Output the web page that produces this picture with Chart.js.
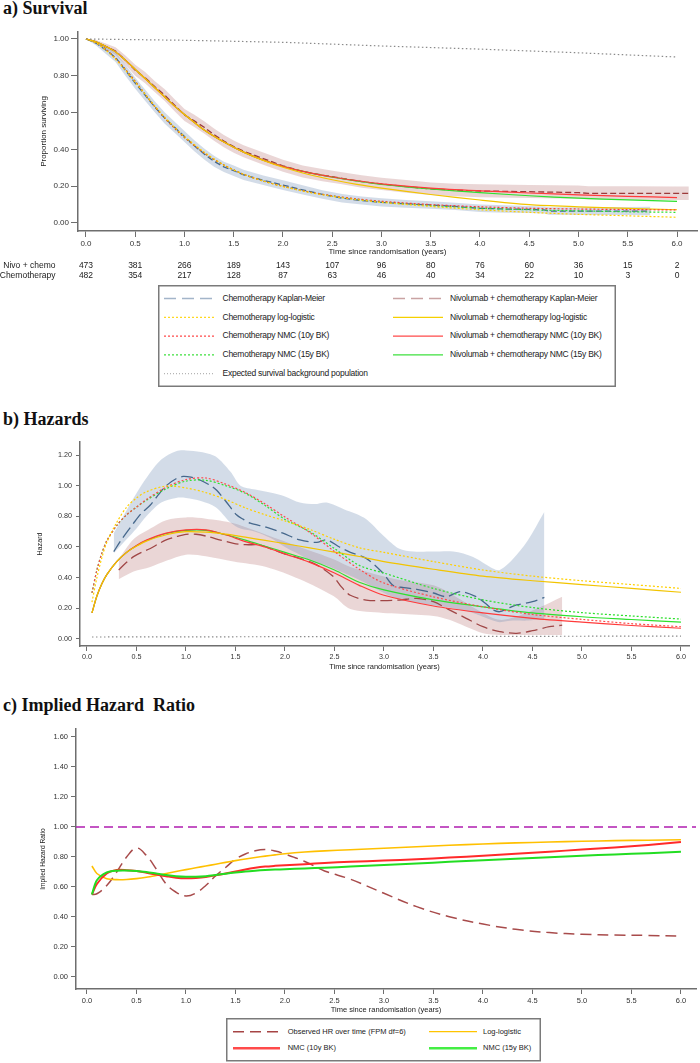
<!DOCTYPE html>
<html>
<head>
<meta charset="utf-8">
<script src="https://cdn.jsdelivr.net/npm/chart.js@4.4.1/dist/chart.umd.min.js"></script>
<style>
  body { margin: 0; background: #fff; width: 700px; height: 1063px; position: relative; overflow: hidden; }
  .title { position: absolute; left: 3px; font: bold 18px 'Liberation Serif', 'Times New Roman', serif; color: #111; line-height: 18px; white-space: pre; }
  canvas, svg { position: absolute; }
  svg text { font-family: 'Liberation Sans', Arial, sans-serif; fill: #222; dominant-baseline: middle; }
</style>
</head>
<body>

<div class="title" style="top:-1px">a) Survival</div>
<canvas id="survChart" width="700" height="265" style="left:0;top:20px"></canvas>

<svg id="survLegend" width="459" height="103" style="left:158px;top:285px">
  <rect x="0.75" y="0.75" width="456.5" height="100.5" fill="#fff" stroke="#7a7a7a" stroke-width="1.5"/>
  <g font-size="8.5" letter-spacing="-0.25">
    <line x1="6" y1="13.5" x2="56" y2="13.5" stroke="#a3b5c9" stroke-width="1.6" stroke-dasharray="12 6"/>
    <text x="64.5" y="13.5">Chemotherapy Kaplan-Meier</text>
    <line x1="6" y1="32.3" x2="56" y2="32.3" stroke="#ffd820" stroke-width="1.2" stroke-dasharray="2 2"/>
    <text x="64.5" y="32.3">Chemotherapy log-logistic</text>
    <line x1="6" y1="51.1" x2="56" y2="51.1" stroke="#ff4a4a" stroke-width="1.2" stroke-dasharray="2 2"/>
    <text x="64.5" y="51.1">Chemotherapy NMC (10y BK)</text>
    <line x1="6" y1="69.9" x2="56" y2="69.9" stroke="#3ee03e" stroke-width="1.2" stroke-dasharray="2 2"/>
    <text x="64.5" y="69.9">Chemotherapy NMC (15y BK)</text>
    <line x1="6" y1="88.7" x2="56" y2="88.7" stroke="#b5b5b5" stroke-width="1.2" stroke-dasharray="1 2"/>
    <text x="64.5" y="88.7">Expected survival background population</text>

    <line x1="235" y1="13.5" x2="285" y2="13.5" stroke="#c9a3a3" stroke-width="1.6" stroke-dasharray="12 6"/>
    <text x="292" y="13.5">Nivolumab + chemotherapy Kaplan-Meier</text>
    <line x1="235" y1="32.3" x2="285" y2="32.3" stroke="#f5d000" stroke-width="1.2"/>
    <text x="292" y="32.3">Nivolumab + chemotherapy log-logistic</text>
    <line x1="235" y1="51.1" x2="285" y2="51.1" stroke="#ff4a4a" stroke-width="1.2"/>
    <text x="292" y="51.1">Nivolumab + chemotherapy NMC (10y BK)</text>
    <line x1="235" y1="69.9" x2="285" y2="69.9" stroke="#3ee03e" stroke-width="1.2"/>
    <text x="292" y="69.9">Nivolumab + chemotherapy NMC (15y BK)</text>
  </g>
</svg>

<div class="title" style="top:410px">b) Hazards</div>
<canvas id="hazChart" width="700" height="243" style="left:0;top:430px"></canvas>

<div class="title" style="top:696px">c) Implied Hazard  Ratio</div>
<canvas id="hrChart" width="700" height="299" style="left:0;top:717px"></canvas>

<svg id="hrLegend" width="316" height="44" style="left:226px;top:1018px">
  <rect x="0.75" y="0.75" width="313.5" height="42" fill="#fff" stroke="#7a7a7a" stroke-width="1.5"/>
  <g font-size="7.5">
    <line x1="7" y1="13.7" x2="54" y2="13.7" stroke="#a64444" stroke-width="1.5" stroke-dasharray="11 6"/>
    <text x="61.7" y="13.7">Observed HR over time (FPM df=6)</text>
    <line x1="7" y1="30.3" x2="54" y2="30.3" stroke="#ff4a4a" stroke-width="2.5"/>
    <text x="61.7" y="30.3">NMC (10y BK)</text>
    <line x1="203" y1="13.7" x2="251" y2="13.7" stroke="#ffc400" stroke-width="1.2"/>
    <text x="257" y="13.7">Log-logistic</text>
    <line x1="203" y1="30.3" x2="251" y2="30.3" stroke="#44ee44" stroke-width="2.5"/>
    <text x="257" y="30.3">NMC (15y BK)</text>
  </g>
</svg>

<script>
// ---- shared ticks ----
const xTicks = [0, 0.5, 1, 1.5, 2, 2.5, 3, 3.5, 4, 4.5, 5, 5.5, 6];
const survTicks = [0, 0.2, 0.4, 0.6, 0.8, 1.0];
const hazTicks = [0, 0.2, 0.4, 0.6, 0.8, 1.0, 1.2];
const hrTicks = [0, 0.2, 0.4, 0.6, 0.8, 1.0, 1.2, 1.4, 1.6];

// ---- a) survival ----
const nivoAtRisk = [473, 381, 266, 189, 143, 107, 96, 80, 76, 60, 36, 15, 2];
const chemoAtRisk = [482, 354, 217, 128, 87, 63, 46, 40, 34, 22, 10, 3, 0];

const chemoKmTime = [0, 0.1, 0.2, 0.3, 0.4, 0.5, 0.6, 0.7, 0.8, 0.9, 1.0, 1.1, 1.2, 1.3, 1.4, 1.5, 1.6, 1.8, 2.0, 2.2, 2.4, 2.6, 2.8, 3.0, 3.25, 3.5, 3.75, 4.0, 4.25, 4.5, 4.65, 4.7, 5.0, 5.5, 5.73];
const chemoKm = [1.0, 0.978, 0.94, 0.9, 0.83, 0.76, 0.695, 0.63, 0.57, 0.52, 0.47, 0.42, 0.375, 0.335, 0.305, 0.284, 0.262, 0.232, 0.206, 0.18, 0.155, 0.135, 0.122, 0.112, 0.104, 0.098, 0.09, 0.08, 0.076, 0.074, 0.071, 0.064, 0.064, 0.064, 0.064];
const chemoKmHi = [1.0, 0.99, 0.96, 0.925, 0.86, 0.79, 0.725, 0.66, 0.6, 0.55, 0.5, 0.45, 0.405, 0.365, 0.333, 0.312, 0.29, 0.258, 0.232, 0.205, 0.178, 0.158, 0.144, 0.134, 0.125, 0.118, 0.11, 0.1, 0.096, 0.093, 0.09, 0.086, 0.086, 0.087, 0.088];
const chemoKmLo = [1.0, 0.966, 0.92, 0.875, 0.8, 0.73, 0.665, 0.6, 0.54, 0.49, 0.44, 0.39, 0.345, 0.305, 0.277, 0.256, 0.234, 0.206, 0.18, 0.155, 0.132, 0.112, 0.1, 0.09, 0.083, 0.078, 0.07, 0.06, 0.056, 0.055, 0.052, 0.045, 0.044, 0.043, 0.042];

const nivoKmTime = [0, 0.1, 0.2, 0.3, 0.4, 0.5, 0.6, 0.7, 0.8, 0.9, 1.0, 1.1, 1.2, 1.3, 1.4, 1.5, 1.6, 1.8, 2.0, 2.2, 2.4, 2.6, 2.8, 3.0, 3.25, 3.5, 3.75, 4.0, 4.5, 5.0, 5.1, 5.5, 6.0, 6.12];
const nivoKm = [1.0, 0.985, 0.96, 0.935, 0.885, 0.83, 0.79, 0.74, 0.695, 0.64, 0.587, 0.555, 0.52, 0.48, 0.445, 0.415, 0.39, 0.35, 0.311, 0.28, 0.26, 0.243, 0.225, 0.212, 0.198, 0.185, 0.178, 0.174, 0.17, 0.165, 0.161, 0.161, 0.161, 0.161];
const nivoKmHi = [1.0, 0.995, 0.975, 0.955, 0.91, 0.86, 0.82, 0.77, 0.727, 0.673, 0.62, 0.588, 0.553, 0.513, 0.478, 0.448, 0.423, 0.383, 0.344, 0.313, 0.293, 0.276, 0.259, 0.246, 0.233, 0.22, 0.213, 0.21, 0.207, 0.204, 0.2, 0.2, 0.198, 0.198];
const nivoKmLo = [1.0, 0.975, 0.945, 0.915, 0.86, 0.8, 0.76, 0.71, 0.663, 0.607, 0.554, 0.522, 0.487, 0.447, 0.412, 0.382, 0.357, 0.317, 0.278, 0.247, 0.227, 0.21, 0.192, 0.18, 0.165, 0.152, 0.145, 0.14, 0.136, 0.132, 0.128, 0.127, 0.125, 0.125];

const modelTime = [0, 0.1, 0.2, 0.3, 0.4, 0.5, 0.6, 0.7, 0.8, 0.9, 1.0, 1.2, 1.4, 1.6, 1.8, 2.0, 2.25, 2.5, 2.75, 3.0, 3.5, 4.0, 4.5, 5.0, 5.5, 6.0];
const chemoLoglogSurv = [1, 0.98, 0.94, 0.89, 0.83, 0.765, 0.7, 0.635, 0.575, 0.52, 0.47, 0.385, 0.315, 0.265, 0.228, 0.198, 0.168, 0.145, 0.127, 0.112, 0.09, 0.072, 0.058, 0.047, 0.039, 0.031];
const chemoNmc10Surv = [1, 0.98, 0.945, 0.895, 0.835, 0.77, 0.7, 0.632, 0.57, 0.515, 0.465, 0.38, 0.315, 0.265, 0.228, 0.2, 0.17, 0.148, 0.131, 0.118, 0.1, 0.088, 0.08, 0.076, 0.073, 0.071];
const chemoNmc15Surv = [1, 0.98, 0.945, 0.895, 0.835, 0.77, 0.7, 0.632, 0.57, 0.515, 0.465, 0.38, 0.315, 0.265, 0.228, 0.2, 0.17, 0.147, 0.129, 0.115, 0.095, 0.081, 0.072, 0.066, 0.061, 0.058];
const nivoLoglogSurv = [1, 0.985, 0.96, 0.93, 0.885, 0.835, 0.785, 0.735, 0.685, 0.635, 0.59, 0.505, 0.44, 0.385, 0.34, 0.303, 0.265, 0.235, 0.21, 0.19, 0.155, 0.125, 0.1, 0.088, 0.079, 0.072];
const nivoNmc10Surv = [1, 0.985, 0.96, 0.93, 0.885, 0.835, 0.785, 0.735, 0.685, 0.635, 0.59, 0.505, 0.44, 0.385, 0.342, 0.308, 0.275, 0.25, 0.23, 0.213, 0.19, 0.175, 0.163, 0.153, 0.145, 0.138];
const nivoNmc15Surv = [1, 0.985, 0.96, 0.93, 0.885, 0.835, 0.785, 0.735, 0.685, 0.635, 0.59, 0.505, 0.44, 0.385, 0.342, 0.308, 0.275, 0.249, 0.228, 0.21, 0.185, 0.165, 0.148, 0.135, 0.126, 0.118];

const bgSurvTime = [0, 1, 2, 3, 4, 5, 6];
const bgSurv = [1.0, 0.993, 0.982, 0.962, 0.945, 0.925, 0.902];

// ---- b) hazards ----
const modelHazTime = [0.05, 0.1, 0.15, 0.2, 0.3, 0.4, 0.5, 0.6, 0.8, 1.0, 1.2, 1.4, 1.6, 1.8, 2.0, 2.25, 2.5, 2.75, 3.0, 3.5, 4.0, 4.5, 5.0, 5.5, 6.0];
const chemoLoglogHaz = [0.24, 0.4, 0.53, 0.63, 0.76, 0.86, 0.92, 0.96, 0.998, 0.985, 0.955, 0.91, 0.855, 0.81, 0.77, 0.715, 0.65, 0.595, 0.565, 0.505, 0.45, 0.41, 0.38, 0.355, 0.33];
const chemoNmc10Haz = [0.3, 0.45, 0.56, 0.64, 0.74, 0.81, 0.86, 0.91, 0.99, 1.04, 1.05, 1.01, 0.955, 0.88, 0.795, 0.695, 0.57, 0.455, 0.365, 0.275, 0.21, 0.16, 0.128, 0.1, 0.08];
const chemoNmc15Haz = [0.3, 0.45, 0.56, 0.64, 0.74, 0.81, 0.86, 0.905, 0.98, 1.03, 1.035, 1.0, 0.95, 0.87, 0.78, 0.7, 0.59, 0.48, 0.43, 0.33, 0.255, 0.205, 0.172, 0.15, 0.13];
const nivoLoglogHaz = [0.17, 0.28, 0.36, 0.42, 0.505, 0.565, 0.605, 0.638, 0.68, 0.7, 0.697, 0.684, 0.664, 0.643, 0.622, 0.594, 0.567, 0.538, 0.505, 0.455, 0.41, 0.38, 0.355, 0.33, 0.305];
const nivoNmc10Haz = [0.17, 0.28, 0.36, 0.42, 0.505, 0.565, 0.61, 0.645, 0.69, 0.712, 0.712, 0.68, 0.635, 0.6, 0.555, 0.5, 0.43, 0.35, 0.285, 0.215, 0.17, 0.135, 0.11, 0.088, 0.07];
const nivoNmc15Haz = [0.17, 0.28, 0.36, 0.42, 0.505, 0.565, 0.608, 0.642, 0.688, 0.708, 0.708, 0.68, 0.645, 0.605, 0.565, 0.515, 0.45, 0.37, 0.32, 0.255, 0.21, 0.17, 0.145, 0.127, 0.11];

const bgHazTime = [0.05, 2, 4, 6];
const bgHaz = [0.013, 0.015, 0.017, 0.019];

const chemoKmHazTime = [0.27, 0.35, 0.47, 0.55, 0.64, 0.72, 0.8, 0.9, 0.97, 1.05, 1.14, 1.25, 1.31, 1.4, 1.51, 1.58, 1.65, 1.81, 1.98, 2.15, 2.32, 2.42, 2.55, 2.66, 2.82, 2.99, 3.09, 3.2, 3.33, 3.5, 3.63, 3.77, 3.93, 4.03, 4.1, 4.17, 4.25, 4.34, 4.5, 4.62];
const chemoKmHaz = [0.57, 0.65, 0.755, 0.82, 0.874, 0.94, 1.0, 1.045, 1.06, 1.055, 1.037, 1.0, 0.97, 0.9, 0.81, 0.78, 0.755, 0.73, 0.69, 0.646, 0.63, 0.646, 0.6, 0.565, 0.526, 0.43, 0.35, 0.335, 0.324, 0.3, 0.276, 0.309, 0.276, 0.23, 0.19, 0.178, 0.2, 0.222, 0.243, 0.272];
const chemoBandTime = [0.27, 0.4, 0.5, 0.6, 0.75, 0.9, 1.0, 1.15, 1.3, 1.45, 1.55, 1.7, 1.85, 2.0, 2.15, 2.3, 2.42, 2.6, 2.8, 3.0, 3.15, 3.3, 3.5, 3.7, 3.9, 4.1, 4.17, 4.3, 4.45, 4.62];
const chemoBandHi = [0.69, 0.84, 0.95, 1.05, 1.17, 1.225, 1.23, 1.22, 1.19, 1.09, 1.0, 0.975, 0.955, 0.93, 0.89, 0.88, 0.89, 0.845, 0.79, 0.67, 0.59, 0.57, 0.57, 0.57, 0.535, 0.46, 0.45, 0.52, 0.64, 0.83];
const chemoBandLo = [0.56, 0.65, 0.72, 0.8, 0.89, 0.92, 0.92, 0.9, 0.86, 0.76, 0.72, 0.7, 0.66, 0.6, 0.55, 0.5, 0.48, 0.43, 0.37, 0.3, 0.26, 0.24, 0.22, 0.2, 0.17, 0.12, 0.11, 0.12, 0.12, 0.13];

const nivoKmHazTime = [0.32, 0.4, 0.47, 0.55, 0.64, 0.72, 0.8, 0.9, 1.0, 1.1, 1.21, 1.35, 1.48, 1.6, 1.75, 1.85, 1.98, 2.15, 2.32, 2.49, 2.57, 2.66, 2.82, 2.99, 3.16, 3.33, 3.5, 3.66, 3.83, 4.0, 4.17, 4.34, 4.5, 4.67, 4.8];
const nivoKmHaz = [0.45, 0.5, 0.537, 0.565, 0.59, 0.62, 0.646, 0.667, 0.683, 0.683, 0.67, 0.645, 0.624, 0.615, 0.613, 0.59, 0.559, 0.526, 0.483, 0.406, 0.34, 0.285, 0.254, 0.25, 0.254, 0.265, 0.243, 0.19, 0.135, 0.08, 0.048, 0.037, 0.054, 0.08, 0.09];
const nivoBandTime = [0.32, 0.47, 0.64, 0.8, 1.0, 1.2, 1.48, 1.81, 2.15, 2.49, 2.66, 2.99, 3.16, 3.5, 3.66, 4.0, 4.17, 4.34, 4.55, 4.8];
const nivoBandHi = [0.52, 0.65, 0.72, 0.775, 0.793, 0.785, 0.755, 0.68, 0.6, 0.52, 0.47, 0.41, 0.385, 0.35, 0.3, 0.17, 0.125, 0.146, 0.2, 0.276];
const nivoBandLo = [0.39, 0.44, 0.47, 0.51, 0.55, 0.54, 0.505, 0.47, 0.39, 0.28, 0.195, 0.17, 0.165, 0.15, 0.125, 0.037, 0.026, 0.026, 0.026, 0.026];

// ---- c) implied hazard ratio ----
const hrReference = 1.0;
const hrTime = [0.05, 0.1, 0.2, 0.3, 0.4, 0.5, 0.6, 0.7, 0.8, 0.9, 1.0, 1.1, 1.2, 1.3, 1.4, 1.5, 1.6, 1.7, 1.8, 1.9, 2.0, 2.2, 2.4, 2.66, 3.0, 3.33, 3.66, 4.0, 4.33, 4.67, 5.0, 5.33, 5.67, 6.0];
const observedHr = [0.55, 0.555, 0.61, 0.7, 0.8, 0.86, 0.81, 0.72, 0.62, 0.565, 0.54, 0.56, 0.61, 0.675, 0.73, 0.785, 0.82, 0.842, 0.85, 0.84, 0.82, 0.77, 0.707, 0.652, 0.558, 0.469, 0.402, 0.353, 0.318, 0.296, 0.285, 0.28, 0.277, 0.273];
const loglogHr = [0.74, 0.69, 0.655, 0.649, 0.65, 0.656, 0.665, 0.677, 0.69, 0.703, 0.716, 0.728, 0.74, 0.752, 0.764, 0.776, 0.787, 0.797, 0.806, 0.814, 0.822, 0.833, 0.841, 0.848, 0.858, 0.868, 0.878, 0.887, 0.894, 0.9, 0.905, 0.909, 0.912, 0.915];
const nmc10Hr = [0.55, 0.62, 0.69, 0.713, 0.712, 0.706, 0.695, 0.683, 0.672, 0.662, 0.658, 0.66, 0.666, 0.678, 0.69, 0.703, 0.717, 0.728, 0.736, 0.741, 0.745, 0.752, 0.76, 0.768, 0.776, 0.785, 0.796, 0.808, 0.821, 0.835, 0.85, 0.864, 0.88, 0.9];
const nmc15Hr = [0.55, 0.645, 0.697, 0.709, 0.71, 0.707, 0.7, 0.69, 0.68, 0.672, 0.668, 0.668, 0.672, 0.68, 0.689, 0.697, 0.704, 0.709, 0.713, 0.716, 0.718, 0.724, 0.729, 0.736, 0.747, 0.757, 0.768, 0.779, 0.789, 0.798, 0.808, 0.817, 0.825, 0.835];

// ---- helpers ----
const fontFam = "'Liberation Sans', Arial, sans-serif";
const axisColor = '#6e6e6e';
Chart.defaults.font.family = fontFam;

const pts = (xs, ys) => xs.map((x, i) => ({ x: x, y: ys[i] }));

function curve(xs, ys, color, extra) {
    return Object.assign({
        data: pts(xs, ys), borderColor: color, borderWidth: 1.2,
        pointRadius: 0, fill: false, tension: 0.3, order: 1
    }, extra || {});
}

function band(xs, lo, hi, color, tension) {
    return [
        { data: pts(xs, lo), borderColor: 'rgba(0,0,0,0)', borderWidth: 0, pointRadius: 0, fill: false, tension: tension, order: 5 },
        { data: pts(xs, hi), borderColor: 'rgba(0,0,0,0)', borderWidth: 0, pointRadius: 0, fill: '-1', backgroundColor: color, tension: tension, order: 5 }
    ];
}

function xAxis(min, max, height, fontSize, titleSize, tickLen) {
    return {
        type: 'linear', min: min, max: max,
        afterBuildTicks: s => { s.ticks = xTicks.map(v => ({ value: v })); },
        afterFit: s => { s.height = height; },
        grid: { drawOnChartArea: false, drawTicks: true, tickLength: tickLen, color: axisColor },
        border: { display: true, color: axisColor, width: 1.5 },
        ticks: { padding: 2, color: '#333', font: { size: fontSize }, maxRotation: 0, autoSkip: false, callback: v => v.toFixed(1) },
        title: { display: true, text: 'Time since randomisation (years)', color: '#222', font: { size: titleSize }, padding: 0 }
    };
}

function yAxis(min, max, width, ticks, title, titlePad, opts) {
    return {
        type: 'linear', min: min, max: max,
        afterBuildTicks: s => { s.ticks = ticks.map(v => ({ value: v })); },
        afterFit: s => { s.width = width; },
        grid: { drawOnChartArea: false, drawTicks: true, tickLength: opts.tickLen, color: axisColor },
        border: { display: true, color: axisColor, width: 1.5 },
        ticks: { padding: opts.pad, color: '#333', font: { size: opts.size }, callback: v => v.toFixed(2) },
        title: { display: true, text: title, color: '#222', font: { size: opts.titleSize }, padding: { top: titlePad, bottom: 0 } }
    };
}

const baseOptions = {
    responsive: false, animation: false, events: [],
    plugins: { legend: { display: false }, tooltip: { enabled: false } }
};

// risk table under the survival plot, placed on the x scale
const riskTable = {
    id: 'riskTable',
    afterDraw(chart) {
        const { ctx, scales: { x } } = chart;
        ctx.save();
        ctx.font = '8.5px ' + fontFam;
        ctx.fillStyle = '#222';
        ctx.textBaseline = 'middle';
        [['Nivo + chemo', nivoAtRisk, x.bottom + 9], ['Chemotherapy', chemoAtRisk, x.bottom + 18.7]].forEach(([label, vals, y]) => {
            ctx.textAlign = 'right';
            ctx.fillText(label, 55.5, y);
            ctx.textAlign = 'center';
            xTicks.forEach((t, i) => ctx.fillText(String(vals[i]), x.getPixelForValue(t), y));
        });
        ctx.restore();
    }
};

// reference line HR = 1
const refLine = {
    id: 'refLine',
    beforeDatasetsDraw(chart) {
        const { ctx, chartArea: a, scales: { y } } = chart;
        const py = y.getPixelForValue(hrReference);
        ctx.save();
        ctx.strokeStyle = '#b01eb0';
        ctx.lineWidth = 1.6;
        ctx.setLineDash([9, 5]);
        ctx.beginPath();
        ctx.moveTo(a.left, py);
        ctx.lineTo(a.right, py);
        ctx.stroke();
        ctx.restore();
    }
};

const dotted = [2, 2];

// ---- a) Survival ----
new Chart(document.getElementById('survChart'), {
    type: 'line',
    data: {
        datasets: [
            curve(bgSurvTime, bgSurv, '#8a8a8a', { borderDash: [1.5, 2.5], tension: 0 }),
            curve(modelTime, chemoLoglogSurv, '#ffd000', { borderDash: dotted }),
            curve(modelTime, chemoNmc10Surv, '#ff3b3b', { borderDash: dotted }),
            curve(modelTime, chemoNmc15Surv, '#2ee02e', { borderDash: dotted }),
            curve(modelTime, nivoLoglogSurv, '#f2c400'),
            curve(modelTime, nivoNmc10Surv, '#ff3b3b'),
            curve(modelTime, nivoNmc15Surv, '#2ee02e'),
            curve(chemoKmTime, chemoKm, '#46688c', { borderDash: [6, 3], tension: 0, borderWidth: 1.3 }),
            curve(nivoKmTime, nivoKm, '#9c3a3a', { borderDash: [6, 3], tension: 0, borderWidth: 1.3 }),
            ...band(chemoKmTime, chemoKmLo, chemoKmHi, 'rgba(110,140,180,0.3)', 0),
            ...band(nivoKmTime, nivoKmLo, nivoKmHi, 'rgba(170,90,90,0.25)', 0)
        ]
    },
    options: Object.assign({}, baseOptions, {
        layout: { padding: { top: 12, right: 3, bottom: 28, left: 0 } },
        scales: {
            x: xAxis(-0.081, 6.203, 26, 8, 8, 6),
            y: yAxis(-0.0435, 1.038, 78, survTicks, 'Proportion surviving', 38.8, { tickLen: 7, pad: 2, size: 8, titleSize: 8 })
        }
    }),
    plugins: [riskTable]
});

// ---- b) Hazards ----
new Chart(document.getElementById('hazChart'), {
    type: 'line',
    data: {
        datasets: [
            curve(bgHazTime, bgHaz, '#8a8a8a', { borderDash: [1.5, 2.5], tension: 0 }),
            curve(modelHazTime, chemoLoglogHaz, '#ffd000', { borderDash: dotted }),
            curve(modelHazTime, chemoNmc10Haz, '#ff4a4a', { borderDash: dotted }),
            curve(modelHazTime, chemoNmc15Haz, '#2ee02e', { borderDash: dotted }),
            curve(modelHazTime, nivoLoglogHaz, '#f2c400'),
            curve(modelHazTime, nivoNmc10Haz, '#ff3b3b'),
            curve(modelHazTime, nivoNmc15Haz, '#2ee02e'),
            curve(chemoKmHazTime, chemoKmHaz, '#46688c', { borderDash: [12, 5], borderWidth: 1.3 }),
            curve(nivoKmHazTime, nivoKmHaz, '#a04646', { borderDash: [12, 5], borderWidth: 1.3 }),
            ...band(chemoBandTime, chemoBandLo, chemoBandHi, 'rgba(110,140,180,0.3)', 0.3),
            ...band(nivoBandTime, nivoBandLo, nivoBandHi, 'rgba(170,90,90,0.25)', 0.3)
        ]
    },
    options: Object.assign({}, baseOptions, {
        layout: { padding: { top: 12, right: 11, bottom: 2, left: 0 } },
        scales: {
            x: xAxis(-0.0707, 6.081, 25, 7.2, 7.5, 5),
            y: yAxis(-0.0457, 1.2848, 80, hazTicks, 'Hazard', 35.5, { tickLen: 4, pad: 4, size: 7.2, titleSize: 7.2 })
        }
    })
});

// ---- c) Implied Hazard Ratio ----
new Chart(document.getElementById('hrChart'), {
    type: 'line',
    data: {
        datasets: [
            curve(hrTime, nmc15Hr, '#22dd22', { borderWidth: 2 }),
            curve(hrTime, nmc10Hr, '#ff2a2a', { borderWidth: 2 }),
            curve(hrTime, loglogHr, '#ffc000', { borderWidth: 1.6 }),
            curve(hrTime, observedHr, '#a84b4b', { borderDash: [11, 6], borderWidth: 1.5, tension: 0.4 })
        ]
    },
    options: Object.assign({}, baseOptions, {
        layout: { padding: { top: 12, right: 4, bottom: 2, left: 0 } },
        scales: {
            x: xAxis(-0.111, 6.152, 25, 7.5, 7.5, 5),
            y: yAxis(-0.08, 1.6533, 76, hrTicks, 'Implied Hazard Ratio', 38.8, { tickLen: 5, pad: 3, size: 7.5, titleSize: 6.6 })
        }
    }),
    plugins: [refLine]
});
</script>
</body>
</html>
